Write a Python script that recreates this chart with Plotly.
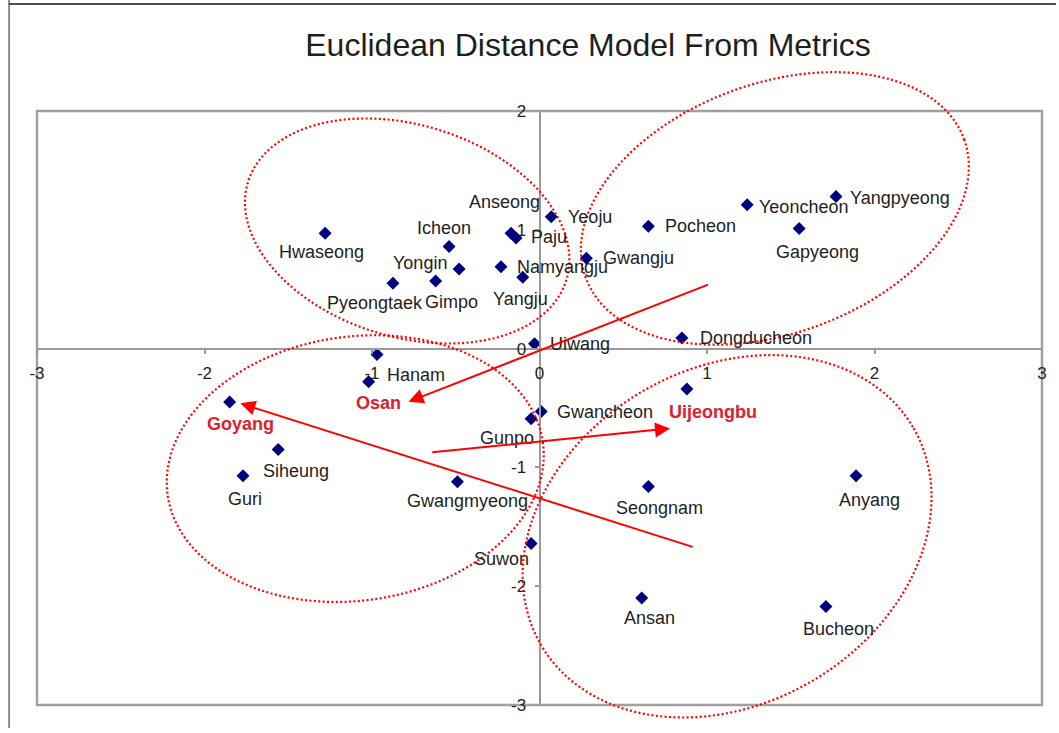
import numpy as np
import plotly.graph_objects as go

# MDS coordinates
names = ["Hwaseong", "Icheon", "Anseong", "Paju", "Yeoju", "Pocheon", "Yeoncheon",
         "Yangpyeong", "Gapyeong", "Gwangju", "Yongin", "Pyeongtaek", "Gimpo",
         "Namyangju", "Yangju", "Uiwang", "Dongducheon", "Hanam", "Osan", "Goyang",
         "Siheung", "Guri", "Gwangmyeong", "Gunpo", "Gwancheon", "Suwon", "Uijeongbu",
         "Seongnam", "Anyang", "Ansan", "Bucheon"]
x_vals = [-1.28, -0.54, -0.17, -0.14, 0.07, 0.65, 1.24, 1.77, 1.55, 0.28, -0.62,
          -0.875, -0.48, -0.23, -0.10, -0.03, 0.85, -0.97, -1.02, -1.85, -1.56,
          -1.77, -0.49, -0.05, 0.01, -0.05, 0.88, 0.65, 1.89, 0.61, 1.71]
y_vals = [0.97, 0.86, 0.97, 0.93, 1.11, 1.03, 1.21, 1.28, 1.01, 0.76, 0.57, 0.55,
          0.67, 0.69, 0.60, 0.04, 0.09, -0.05, -0.28, -0.45, -0.85, -1.07, -1.12,
          -0.59, -0.53, -1.64, -0.34, -1.16, -1.07, -2.10, -2.17]
highlighted = ["Osan", "Goyang", "Uijeongbu"]

x_ticks = [-3, -2, -1, 0, 1, 2, 3]
y_ticks = [-3, -2, -1, 0, 1, 2]

# label placement relative to the marker (pixels, +dy = down)
label_offsets = {
    "Hwaseong": (-4, 19), "Icheon": (-5, -18), "Anseong": (-7, -31), "Paju": (33, -1),
    "Yeoju": (39, 0), "Pocheon": (52, 0), "Yeoncheon": (56, 2), "Yangpyeong": (64, 1),
    "Gapyeong": (18, 23), "Gwangju": (52, 0), "Yongin": (-16, -18),
    "Pyeongtaek": (-18, 20), "Gimpo": (-8, 33), "Namyangju": (62, 0), "Yangju": (-2, 22),
    "Uiwang": (46, 0), "Dongducheon": (74, 0), "Hanam": (39, 20), "Osan": (10, 21),
    "Goyang": (11, 22), "Siheung": (18, 21), "Guri": (2, 23), "Gwangmyeong": (10, 19),
    "Gunpo": (-24, 19), "Gwancheon": (64, 0), "Suwon": (-30, 16), "Uijeongbu": (26, 23),
    "Seongnam": (11, 22), "Anyang": (13, 24), "Ansan": (8, 20), "Bucheon": (13, 23),
}

# arrows: (tail x, tail y, head x, head y) in data units
arrows = [(1.016, 0.543, -0.782, -0.448),
          (0.923, -1.673, -1.786, -0.461),
          (-0.649, -0.874, 0.779, -0.672)]

# cluster ellipses: centre (data), semi-axes (px), tilt (deg, screen)
ellipses = [(-0.79, 0.99, 167, 106, 17),
            (1.405, 1.18, 202, 125, -20),
            (-1.10, -1.01, 190, 132, -8),
            (1.12, -1.58, 216, 168, -30)]

W, H = 1059, 733
L, R, T, B = 37, 14, 111, 28
pw, ph = W - L - R, H - T - B
XR, YR = (-3, 3), (-3, 2)
FONT = "Liberation Sans, Arial, sans-serif"


def px_to_paper(px, py):
    return (px - L) / pw, (H - B - py) / ph


def data_to_px(x, y):
    px = L + (x - XR[0]) / (XR[1] - XR[0]) * pw
    py = (H - B) - (y - YR[0]) / (YR[1] - YR[0]) * ph
    return px, py


fig = go.Figure()

fig.add_trace(go.Scatter(
    x=x_vals, y=y_vals, mode="markers",
    marker=dict(symbol="diamond", size=10, color="#00007f"),
    hovertext=names, showlegend=False,
))

annotations = []
for name, x, y in zip(names, x_vals, y_vals):
    dx, dy = label_offsets[name]
    red = name in highlighted
    annotations.append(dict(
        x=x, y=y, xref="x", yref="y", text=f"<b>{name}</b>" if red else name,
        showarrow=False, xshift=dx, yshift=-dy, xanchor="center", yanchor="middle",
        font=dict(size=18, color="#e0202c" if red else "#1e1e1e", family=FONT),
    ))

for tx, ty, hx, hy in arrows:
    annotations.append(dict(
        x=hx, y=hy, ax=tx, ay=ty, xref="x", yref="y", axref="x", ayref="y",
        text="", showarrow=True, arrowhead=2, arrowsize=1.5, arrowwidth=2,
        arrowcolor="#ff0000", standoff=0,
    ))

shapes = []
t = np.linspace(0, 2 * np.pi, 240)
for cx, cy, a, b, ang in ellipses:
    th = np.radians(ang)
    cpx, cpy = data_to_px(cx, cy)
    ex = cpx + a * np.cos(th) * np.cos(t) - b * np.sin(th) * np.sin(t)
    ey = cpy + a * np.sin(th) * np.cos(t) + b * np.cos(th) * np.sin(t)
    pts = [px_to_paper(u, v) for u, v in zip(ex, ey)]
    path = "M " + " L ".join(f"{u:.5f},{v:.5f}" for u, v in pts) + " Z"
    shapes.append(dict(type="path", path=path, xref="paper", yref="paper",
                       line=dict(color="#ff0000", width=2.2, dash="2px,2.4px")))

# plot-area frame
shapes.append(dict(type="rect", xref="paper", yref="paper", x0=0, y0=0, x1=1, y1=1,
                   line=dict(color="#a0a0a0", width=2.5), layer="below"))
# chart-area border (left and top)
x9, ytop = px_to_paper(9, 0)
_, ybot = px_to_paper(9, 728)
xr, y4 = px_to_paper(W, 4)
shapes.append(dict(type="line", xref="paper", yref="paper", x0=x9, x1=x9, y0=ybot, y1=ytop,
                   line=dict(color="#8c8c8c", width=2)))
shapes.append(dict(type="line", xref="paper", yref="paper", x0=x9, x1=xr, y0=y4, y1=y4,
                   line=dict(color="#111111", width=1.5)))

axis_common = dict(
    showgrid=False, zeroline=False, showline=True, linecolor="#9a9a9a", linewidth=2,
    ticks="outside", ticklen=4, tickwidth=1.5, tickcolor="#9a9a9a",
    tickfont=dict(size=17, color="#1e1e1e", family=FONT),
    fixedrange=True, ticklabelstandoff=5,
)

fig.update_layout(
    width=W, height=H,
    margin=dict(l=L, r=R, t=T, b=B),
    paper_bgcolor="white", plot_bgcolor="white",
    title=dict(text="Euclidean Distance Model From Metrics", x=588 / W, y=1 - 45 / H,
               xanchor="center", yanchor="middle", xref="container", yref="container",
               font=dict(size=32, color="#1e1e1e", family=FONT)),
    xaxis=dict(range=list(XR), tickvals=x_ticks, ticktext=[str(v) for v in x_ticks],
               anchor="free", position=(0 - YR[0]) / (YR[1] - YR[0]), **axis_common),
    yaxis=dict(range=list(YR), tickvals=y_ticks, ticktext=[str(v) for v in y_ticks],
               anchor="free", position=(0 - XR[0]) / (XR[1] - XR[0]), **axis_common),
    annotations=annotations,
    shapes=shapes,
    showlegend=False,
)

fig.write_html("out.html", config={"displayModeBar": False},
               post_script="document.body.style.margin='0';")
